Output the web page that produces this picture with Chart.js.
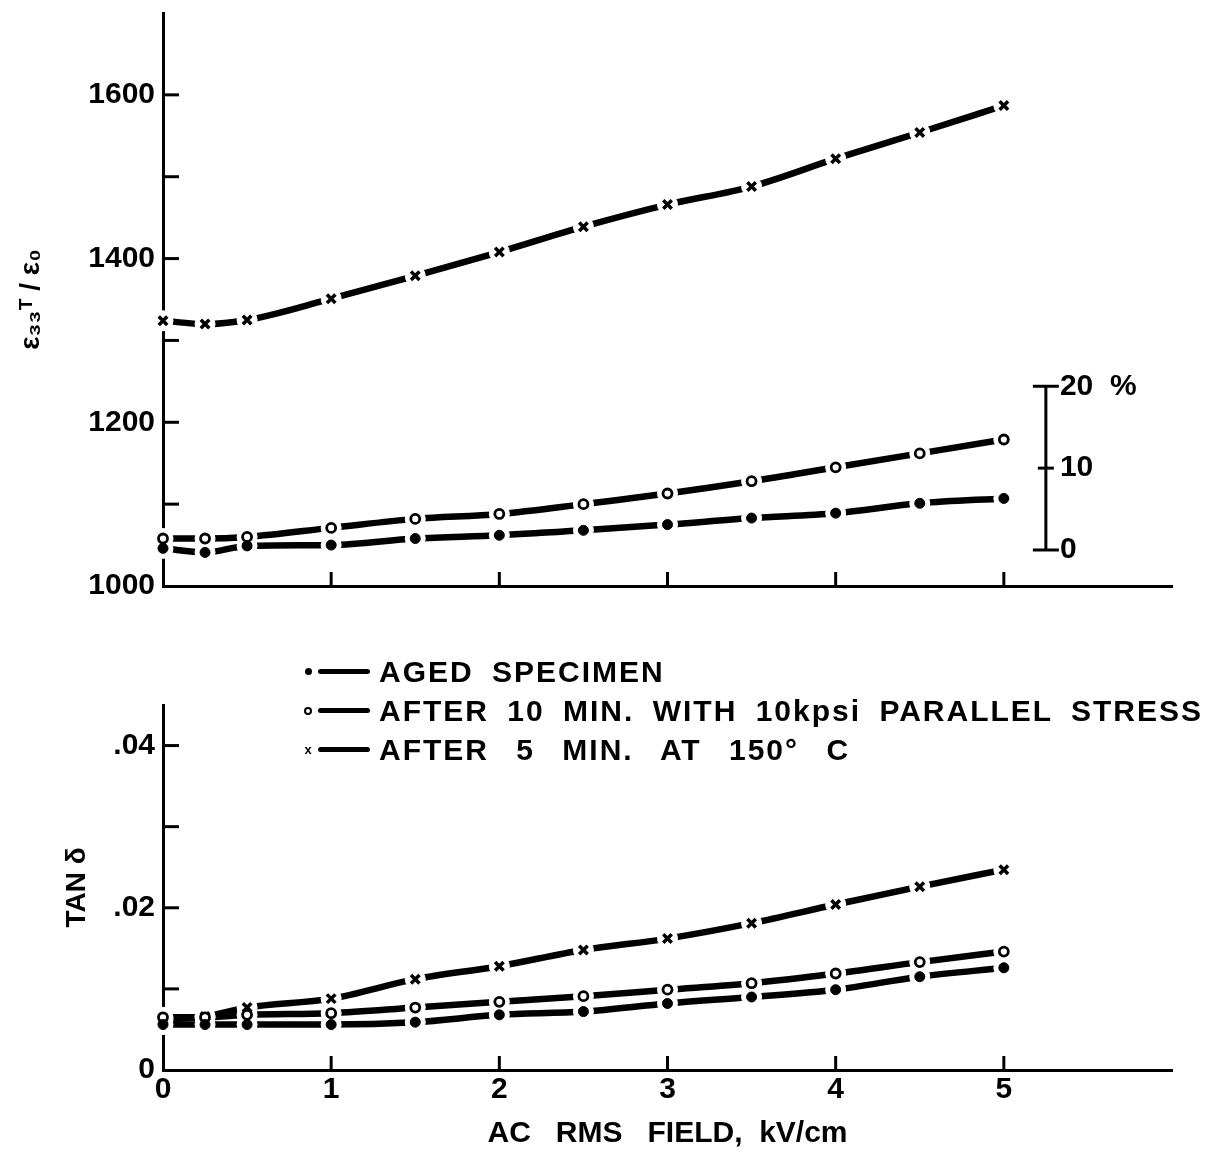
<!DOCTYPE html>
<html>
<head>
<meta charset="utf-8">
<script src="https://cdn.jsdelivr.net/npm/chart.js@4.4.1/dist/chart.umd.min.js"></script>
<style>
  body { margin: 0; background: #fff; }
  #wrap { position: relative; width: 1214px; height: 1152px; overflow: hidden; font-family: 'Liberation Sans', Arial, sans-serif; }
  #top { position: absolute; left: 0; top: -13px; width: 1214px; height: 625px; }
  #bot { position: absolute; left: 0; top: 600px; width: 1214px; height: 552px; }
  #legend { position: absolute; left: 302px; top: 652px; }
  .row { height: 39px; display: flex; align-items: center; font-weight: bold; font-size: 30px; letter-spacing: 2px; word-spacing: 8px; color: #000; white-space: nowrap; }
  .row:nth-child(3) { word-spacing: 17px; }
  .mk { width: 12px; display: inline-flex; justify-content: center; align-items: center; }
  .dot { width: 7px; height: 7px; border-radius: 50%; background: #000; }
  .ring { width: 4px; height: 4px; border-radius: 50%; border: 2px solid #000; }
  .cross { font-size: 13px; font-weight: bold; letter-spacing: 0; }
  .ln { width: 52px; height: 5px; background: #000; border-radius: 3px; margin: 0 9px 0 4px; }
</style>
</head>
<body>
<div id="wrap">
  <div id="top"><canvas id="chartTop"></canvas></div>
  <div id="bot"><canvas id="chartBot"></canvas></div>
  <div id="legend"></div>
</div>
<script>
// datos
const field = [0, 0.25, 0.5, 1, 1.5, 2, 2.5, 3, 3.5, 4, 4.5, 5];
const seriesNames = [
  'AGED SPECIMEN',
  'AFTER 10 MIN. WITH 10kpsi PARALLEL STRESS',
  'AFTER 5 MIN. AT 150° C'
];
// permitividad relativa e33T/e0
const permAged   = [1046, 1041, 1049, 1050, 1058, 1062, 1068, 1075, 1083, 1089, 1101, 1107];
const permStress = [1058, 1058, 1060, 1071, 1082, 1088, 1100, 1113, 1128, 1145, 1162, 1179];
const permHeat   = [1324, 1320, 1325, 1351, 1379, 1408, 1439, 1466, 1488, 1522, 1554, 1587];
// tan delta
const tanAged   = [0.0056, 0.0056, 0.0056, 0.0056, 0.0059, 0.0068, 0.0072, 0.0082, 0.0090, 0.0099, 0.0115, 0.0126];
const tanStress = [0.0065, 0.0065, 0.0068, 0.0070, 0.0077, 0.0084, 0.0091, 0.0099, 0.0107, 0.0119, 0.0133, 0.0146];
const tanHeat   = [0.0062, 0.0066, 0.0077, 0.0088, 0.0112, 0.0128, 0.0148, 0.0162, 0.0181, 0.0204, 0.0226, 0.0247];
// escala de porcentaje (barra a la derecha)
const pctBarX = 5.25;
const pctValues = [1044, 1144, 1244];
const pctLabels = ['0', '10', '20  %'];

const FONT = "'Liberation Sans', Arial, sans-serif";

function pts(ys) { return field.map((x, i) => ({ x: x, y: ys[i] })); }

const markerStyles = [
  { pointStyle: 'circle', pointRadius: 5, pointBackgroundColor: '#000', pointBorderWidth: 1 },
  { pointStyle: 'circle', pointRadius: 4.5, pointBackgroundColor: '#fff', pointBorderWidth: 2.8 },
  { pointStyle: 'crossRot', pointRadius: 6, pointBackgroundColor: '#000', pointBorderWidth: 3.5 }
];

// cada serie: linea gruesa, mascara blanca (hueco) y marcador encima
function makeDatasets(arrs) {
  const lines = arrs.map((a, i) => ({
    label: seriesNames[i],
    data: pts(a),
    borderColor: '#000',
    borderWidth: 6.5,
    pointRadius: 0,
    tension: 0.3,
    cubicInterpolationMode: 'monotone',
    order: 3
  }));
  const masks = arrs.map(a => ({
    label: '',
    data: pts(a),
    showLine: false,
    pointStyle: 'circle',
    pointRadius: 10,
    pointBorderWidth: 1,
    pointBackgroundColor: '#fff',
    pointBorderColor: '#fff',
    clip: false,
    order: 2
  }));
  const marks = arrs.map((a, i) => Object.assign({
    label: '',
    data: pts(a),
    showLine: false,
    pointBorderColor: '#000',
    clip: false,
    order: 1
  }, markerStyles[i]));
  return lines.concat(masks, marks);
}

// marcas de los ejes hacia adentro
const inwardTicks = {
  id: 'inwardTicks',
  afterDraw(chart) {
    const { ctx, chartArea, scales } = chart;
    ctx.save();
    ctx.strokeStyle = '#000';
    ctx.lineWidth = 3;
    scales.y.ticks.forEach(t => {
      if (t.value <= scales.y.min || t.value >= scales.y.max - 1e-9) return;
      const py = scales.y.getPixelForValue(t.value);
      ctx.beginPath(); ctx.moveTo(chartArea.left, py); ctx.lineTo(chartArea.left + 16, py); ctx.stroke();
    });
    scales.x.ticks.forEach(t => {
      if (t.value <= 0 || t.value > 5) return;
      const px = scales.x.getPixelForValue(t.value);
      ctx.beginPath(); ctx.moveTo(px, chartArea.bottom); ctx.lineTo(px, chartArea.bottom - 14); ctx.stroke();
    });
    ctx.restore();
  }
};

const pctBar = {
  id: 'pctBar',
  afterDraw(chart) {
    const { ctx, scales } = chart;
    const px = scales.x.getPixelForValue(pctBarX);
    const y0 = scales.y.getPixelForValue(pctValues[0]);
    const y2 = scales.y.getPixelForValue(pctValues[2]);
    ctx.save();
    ctx.strokeStyle = '#000';
    ctx.lineWidth = 3;
    ctx.beginPath(); ctx.moveTo(px, y0); ctx.lineTo(px, y2); ctx.stroke();
    ctx.font = 'bold 30px ' + FONT;
    ctx.fillStyle = '#000';
    ctx.textBaseline = 'middle';
    pctValues.forEach((v, i) => {
      const py = scales.y.getPixelForValue(v);
      const half = i === 1 ? 8 : 13;
      ctx.beginPath(); ctx.moveTo(px - half, py); ctx.lineTo(px + half, py); ctx.stroke();
      ctx.fillText(pctLabels[i], px + 14, py);
    });
    ctx.restore();
  }
};

const xAxisBase = {
  type: 'linear', min: 0, max: 6,
  grid: { display: false, drawTicks: false },
  border: { display: true, color: '#000', width: 3 },
  ticks: { stepSize: 1, color: '#000', padding: 2, maxRotation: 0,
    font: { family: FONT, size: 30, weight: 'bold' },
    callback: v => (v <= 5 ? String(v) : '') }
};

new Chart(document.getElementById('chartTop'), {
  type: 'line',
  data: { datasets: makeDatasets([permAged, permStress, permHeat]) },
  options: {
    responsive: true, maintainAspectRatio: false, animation: false,
    layout: { padding: { top: 12, right: 42, left: 0, bottom: 0 } },
    plugins: { legend: { display: false }, tooltip: { enabled: false } },
    scales: {
      x: Object.assign({}, xAxisBase, {
        ticks: Object.assign({}, xAxisBase.ticks, { display: false }),
        afterFit: s => { s.height = 15; }
      }),
      y: {
        min: 1000, max: 1700,
        grid: { display: false, drawTicks: false },
        border: { display: true, color: '#000', width: 3 },
        ticks: { stepSize: 100, color: '#000', padding: 8,
          font: { family: FONT, size: 30, weight: 'bold' },
          callback: v => (v % 200 === 0 && v < 1700 ? String(v) : '') },
        title: { display: true, text: 'ε₃₃ᵀ / ε₀', color: '#000',
          padding: { top: 14 }, font: { family: FONT, size: 28, weight: 'bold' } },
        afterFit: s => { s.width = 163; }
      }
    }
  },
  plugins: [inwardTicks, pctBar]
});

new Chart(document.getElementById('chartBot'), {
  type: 'line',
  data: { datasets: makeDatasets([tanAged, tanStress, tanHeat]) },
  options: {
    responsive: true, maintainAspectRatio: false, animation: false,
    layout: { padding: { top: 105, right: 42, left: 0, bottom: 0 } },
    plugins: { legend: { display: false }, tooltip: { enabled: false } },
    scales: {
      x: Object.assign({}, xAxisBase, {
        title: { display: true, text: 'AC   RMS   FIELD,  kV/cm', color: '#000',
          padding: { top: 0, bottom: 0 }, font: { family: FONT, size: 30, weight: 'bold' } },
        afterFit: s => { s.height = 82; }
      }),
      y: {
        min: 0, max: 0.045,
        grid: { display: false, drawTicks: false },
        border: { display: true, color: '#000', width: 3 },
        ticks: { stepSize: 0.01, color: '#000', padding: 8,
          font: { family: FONT, size: 30, weight: 'bold' },
          callback: v => {
            if (Math.abs(v) < 1e-9) return '0';
            if (Math.abs(v - 0.02) < 1e-9) return '.02';
            if (Math.abs(v - 0.04) < 1e-9) return '.04';
            return '';
          } },
        title: { display: true, text: 'TAN δ', color: '#000',
          padding: { top: 60 }, font: { family: FONT, size: 28, weight: 'bold' } },
        afterFit: s => { s.width = 163; }
      }
    }
  },
  plugins: [inwardTicks]
});

// leyenda
const marks = ['<span class="dot"></span>', '<span class="ring"></span>', '<span class="cross">x</span>'];
document.getElementById('legend').innerHTML = seriesNames.map((n, i) =>
  '<div class="row"><span class="mk">' + marks[i] + '</span><span class="ln"></span><span>' + n + '</span></div>'
).join('');
</script>
</body>
</html>
